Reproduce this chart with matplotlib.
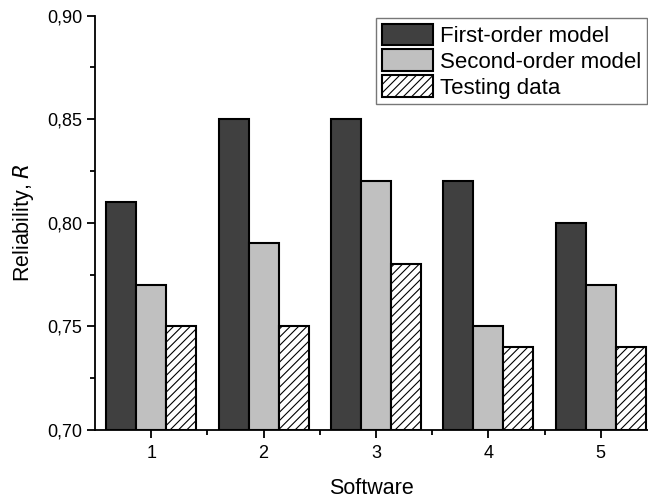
import numpy as np
import matplotlib
matplotlib.use("Agg")
import matplotlib.pyplot as plt
from matplotlib.ticker import MultipleLocator, FuncFormatter

plt.rcParams["font.family"] = ["Liberation Sans", "DejaVu Sans"]
plt.rcParams["hatch.linewidth"] = 0.8

software = [1, 2, 3, 4, 5]
first_order = [0.81, 0.85, 0.85, 0.82, 0.80]
second_order = [0.77, 0.79, 0.82, 0.75, 0.77]
testing = [0.75, 0.75, 0.78, 0.74, 0.74]

fig = plt.figure(figsize=(6.48, 5.01), dpi=100)
ax = fig.add_axes([95 / 648, 1 - 430 / 501, 1 - 95 / 648, (430 - 15.5) / 501])

x = np.array(software, dtype=float)
w = 0.8 / 3
kw = dict(width=w, edgecolor="black", linewidth=1.5, bottom=0.70)
ax.bar(x - w, np.array(first_order) - 0.70, color="#404040", label="First-order model", **kw)
ax.bar(x, np.array(second_order) - 0.70, color="#c0c0c0", label="Second-order model", **kw)
ax.bar(x + w, np.array(testing) - 0.70, color="white", hatch="////", label="Testing data", **kw)

ax.set_ylim(0.70, 0.90)
ax.set_xlim(0.5, 5.42)
ax.yaxis.set_major_locator(MultipleLocator(0.05))
ax.yaxis.set_minor_locator(MultipleLocator(0.025))
ax.yaxis.set_major_formatter(FuncFormatter(lambda v, p: f"{v:.2f}".replace(".", ",")))
ax.set_xticks(software)
ax.set_xticks([1.5, 2.5, 3.5, 4.5], minor=True)

for s in ("top", "right"):
    ax.spines[s].set_visible(False)
for s in ("left", "bottom"):
    ax.spines[s].set_linewidth(1.3)
ax.tick_params(axis="both", which="major", direction="out", length=6, width=1.3, labelsize=13)
ax.tick_params(axis="both", which="minor", direction="out", length=3.5, width=1.3)
ax.tick_params(axis="x", pad=5)
ax.tick_params(axis="y", pad=3)

ax.set_xlabel("Software", fontsize=15.5, labelpad=11)
ax.set_ylabel("Reliability, $\\it{R}$", fontsize=15.5, labelpad=8)

leg = ax.legend(loc="upper left", bbox_to_anchor=((376 - 95) / (648 - 95), 1 - 2.5 / 414.5),
                bbox_transform=ax.transAxes,
                fontsize=16, frameon=True, fancybox=False, borderaxespad=0,
                handlelength=2.3, handleheight=1.1, handletextpad=0.35,
                labelspacing=0.12, borderpad=0.25)
leg.get_frame().set_edgecolor("#555555")
leg.get_frame().set_linewidth(1.0)

fig.savefig("out.png", dpi=100)
